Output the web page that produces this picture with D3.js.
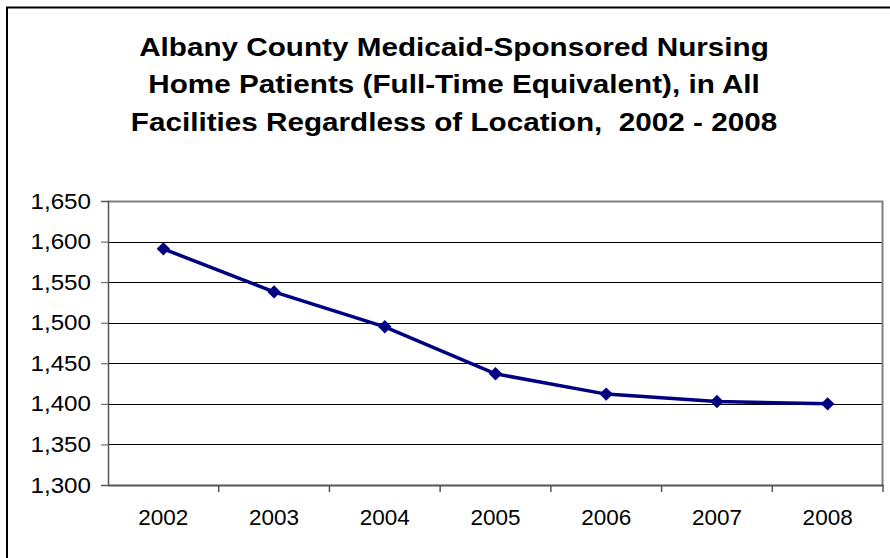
<!DOCTYPE html>
<html>
<head>
<meta charset="utf-8">
<script src="https://cdn.jsdelivr.net/npm/d3@7"></script>
<style>
  body { margin: 0; background: #fff; }
  svg { display: block; font-family: Arial, "Liberation Sans", sans-serif; }
</style>
</head>
<body>
<div id="chart"></div>
<script>
// Albany County Medicaid nursing home patients (FTE), 2002 - 2008
var years = ["2002", "2003", "2004", "2005", "2006", "2007", "2008"];
var patients = [1591, 1538, 1495, 1437, 1412, 1403, 1400];
var yTicks = [1300, 1350, 1400, 1450, 1500, 1550, 1600, 1650];
var titleLines = [
  "Albany County Medicaid-Sponsored Nursing",
  "Home Patients (Full-Time Equivalent), in All",
  "Facilities Regardless of Location,  2002 - 2008"
];

var svgWidth = 890;
var svgHeight = 558;

var margin = { top: 201, right: 7, bottom: 73, left: 108 };
var width = svgWidth - margin.left - margin.right;
var height = svgHeight - margin.top - margin.bottom;

var svg = d3.select("#chart")
  .append("svg")
  .attr("width", svgWidth)
  .attr("height", svgHeight);

// outer chart border
svg.append("rect")
  .attr("x", 7)
  .attr("y", 7.5)
  .attr("width", 1000)
  .attr("height", 1000)
  .attr("fill", "none")
  .attr("stroke", "#000")
  .attr("stroke-width", 2);

// title (text in the original is a bit wider than Arial, so stretch it)
svg.append("text")
  .attr("text-anchor", "middle")
  .attr("font-weight", "bold")
  .attr("font-size", 26.5)
  .attr("xml:space", "preserve")
  .style("white-space", "pre")
  .attr("transform", "translate(454,0) scale(1.12,1)")
  .selectAll("tspan")
  .data(titleLines)
  .join("tspan")
  .attr("x", 0)
  .attr("y", function(d, i) { return 55.7 + i * 37.7; })
  .text(function(d) { return d; });

var g = svg.append("g")
  .attr("transform", "translate(" + margin.left + "," + margin.top + ")");

var x = d3.scaleBand().domain(years).range([0, width]);
var y = d3.scaleLinear().domain([1300, 1650]).range([height, 0]);

// gridlines
g.append("g")
  .selectAll("line")
  .data(yTicks.slice(1, -1))
  .join("line")
  .attr("x1", 0)
  .attr("x2", width)
  .attr("y1", function(d) { return Math.round(y(d)) + 0.5; })
  .attr("y2", function(d) { return Math.round(y(d)) + 0.5; })
  .attr("stroke", "#000")
  .attr("stroke-width", 1);

// plot area border (top/right gray)
g.append("path")
  .attr("d", "M0,0.5H" + (width - 0.5) + "V" + height)
  .attr("fill", "none")
  .attr("stroke", "#808080")
  .attr("stroke-width", 2);

// y axis
var yAxis = g.append("g")
  .call(d3.axisLeft(y).tickValues(yTicks).tickSize(7).tickPadding(10)
    .tickFormat(d3.format(",")));
yAxis.select(".domain").attr("stroke", "#555").attr("stroke-width", 1.5);
yAxis.selectAll(".tick line").attr("stroke", "#555");
yAxis.selectAll(".tick text")
  .attr("x", null)
  .attr("font-size", 22)
  .attr("fill", "#000")
  .attr("font-family", "Arial, 'Liberation Sans', sans-serif")
  .attr("transform", "translate(-17,0) scale(1.1,1)");

// x axis
var xAxis = g.append("g")
  .attr("transform", "translate(0," + height + ")")
  .call(d3.axisBottom(x).tickSize(0).tickPadding(24));
xAxis.select(".domain").attr("stroke", "#555").attr("stroke-width", 2);
xAxis.selectAll("text")
  .attr("font-size", 22.5)
  .attr("fill", "#000")
  .attr("font-family", "Arial, 'Liberation Sans', sans-serif");

// category separator ticks
g.append("g")
  .selectAll("line")
  .data(years)
  .join("line")
  .attr("x1", function(d) { return x(d) + x.bandwidth(); })
  .attr("x2", function(d) { return x(d) + x.bandwidth(); })
  .attr("y1", height)
  .attr("y2", height + 7)
  .attr("stroke", "#555")
  .attr("stroke-width", 1.5);

// line
var line = d3.line()
  .x(function(d, i) { return x(years[i]) + x.bandwidth() / 2; })
  .y(function(d) { return y(d); });

g.append("path")
  .datum(patients)
  .attr("d", line)
  .attr("fill", "none")
  .attr("stroke", "#000080")
  .attr("stroke-width", 3.5);

// diamond markers
g.selectAll(".marker")
  .data(patients)
  .join("path")
  .attr("class", "marker")
  .attr("d", d3.symbol().type(d3.symbolDiamond2).size(115))
  .attr("transform", function(d, i) {
    return "translate(" + (x(years[i]) + x.bandwidth() / 2) + "," + y(d) + ")";
  })
  .attr("fill", "#000080");
</script>
</body>
</html>
